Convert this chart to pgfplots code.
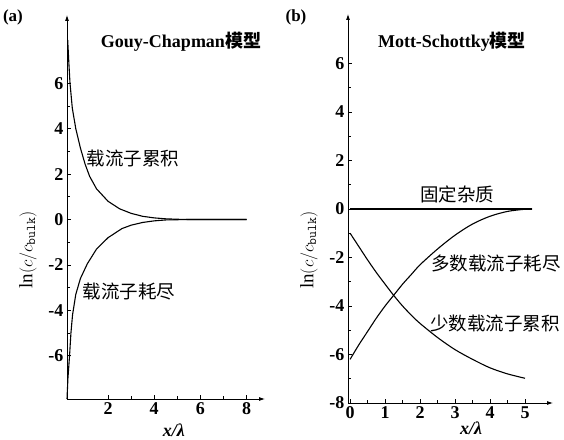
\documentclass[border=0pt]{standalone}
\usepackage{fontspec}
\setmainfont{Liberation Serif}
\newfontfamily\cjk{Noto Sans CJK SC}
\usepackage{pgfplots}
\pgfplotsset{compat=1.18}
\usetikzlibrary{arrows.meta}
\pgfplotsset{common/.style={
  scale only axis, anchor=south west, axis lines=left, clip=false,
  axis line style={line width=0.8pt,-{Latex[length=6pt,width=4pt]}},
  tick align=inside, major tick length=4pt, minor tick length=3pt,
  tick style={line width=0.7pt,black}, minor tick num=1,
  ticklabel style={font=\fontsize{18}{18}\selectfont\bfseries},
  /pgf/number format/assume math mode=true,
  xlabel={\bfseries\itshape x/λ},
  ylabel={\fontsize{19}{19}\selectfont ln$(c/c_{\mathtt{bulk}})$},
  curve/.style={line width=1.1pt, black, no marks}
}}
\begin{document}
\begin{tikzpicture}
\useasboundingbox (0pt,0pt) rectangle (564pt,439pt);
\begin{axis}[common, at={(67pt,40pt)}, width=198pt, height=384pt,
  xmin=0.22, xmax=8.8, ymin=-7.9, ymax=9.0,
  xtick={2,4,6,8}, ytick={-6,-4,-2,0,2,4,6},
  xlabel style={at={(axis description cs:0.54,-0.081)}, anchor=center, font=\fontsize{18}{18}\selectfont},
  ylabel style={at={(axis description cs:-0.197,0.388)}, anchor=center}]
\addplot[curve] coordinates {(0.25,7.9)(0.3,6.9)(0.35,6.0)(0.45,4.9)(0.6,4.0)(0.8,3.15)(1.0,2.45)(1.2,1.9)(1.5,1.35)(2,0.8)(2.5,0.47)(3,0.27)(3.5,0.14)(4,0.07)(4.5,0.03)(5,0.01)(5.5,0)(6,0)(7,0)(8,0)};
\addplot[curve] coordinates {(0.22,-7.9)(0.26,-7)(0.33,-6)(0.39,-5)(0.46,-4.2)(0.6,-3.3)(0.8,-2.6)(1.1,-1.95)(1.5,-1.3)(2,-0.8)(2.6,-0.4)(3,-0.25)(3.5,-0.13)(4,-0.06)(4.5,-0.02)(5,-0.01)(5.5,0)(6,0)(7,0)(8,0)};
\end{axis}
\begin{axis}[common, at={(348pt,36pt)}, width=205pt, height=389pt,
  xmin=-0.06, xmax=5.8, ymin=-8, ymax=8.04,
  xtick={0,1,2,3,4,5}, ytick={-8,-6,-4,-2,0,2,4,6},
  xlabel style={at={(axis description cs:0.6,-0.066)}, anchor=center, font=\fontsize{18}{18}\selectfont},
  ylabel style={at={(axis description cs:-0.19,0.393)}, anchor=center}]
\addplot[curve] coordinates {(0,0)(5.2,0)};
\addplot[curve, smooth] coordinates {(0,-6.2)(0.25,-5.6)(0.5,-5.05)(0.75,-4.5)(1,-4.0)(1.25,-3.55)(1.5,-3.1)(1.75,-2.7)(2,-2.3)(2.5,-1.65)(3,-1.08)(3.5,-0.62)(4,-0.3)(4.5,-0.1)(5,-0.01)(5.2,0)};
\addplot[curve, smooth] coordinates {(0,-1)(0.25,-1.55)(0.5,-2.1)(0.75,-2.62)(1,-3.1)(1.25,-3.57)(1.5,-4.0)(1.75,-4.38)(2,-4.72)(2.5,-5.3)(3,-5.8)(3.5,-6.2)(4,-6.55)(4.5,-6.8)(5,-6.98)};
\end{axis}
\node[font=\fontsize{17}{17}\selectfont\bfseries] at (13pt,422pt) {(a)};
\node[font=\fontsize{17}{17}\selectfont\bfseries] at (296pt,422pt) {(b)};
\node[font=\fontsize{18}{18}\selectfont\bfseries] at (181pt,397pt) {Gouy-Chapman{\cjk 模型}};
\node[font=\fontsize{18}{18}\selectfont\bfseries] at (452pt,397pt) {Mott-Schottky{\cjk 模型}};
\node[font=\fontsize{18.5}{18.5}\selectfont\cjk] at (133pt,281pt) {载流子累积};
\node[font=\fontsize{18.5}{18.5}\selectfont\cjk] at (129pt,147pt) {载流子耗尽};
\node[font=\fontsize{18.5}{18.5}\selectfont\cjk] at (457pt,245pt) {固定杂质};
\node[font=\fontsize{18.5}{18.5}\selectfont\cjk] at (496pt,176pt) {多数载流子耗尽};
\node[font=\fontsize{18.5}{18.5}\selectfont\cjk] at (495pt,116pt) {少数载流子累积};
\end{tikzpicture}
\end{document}
